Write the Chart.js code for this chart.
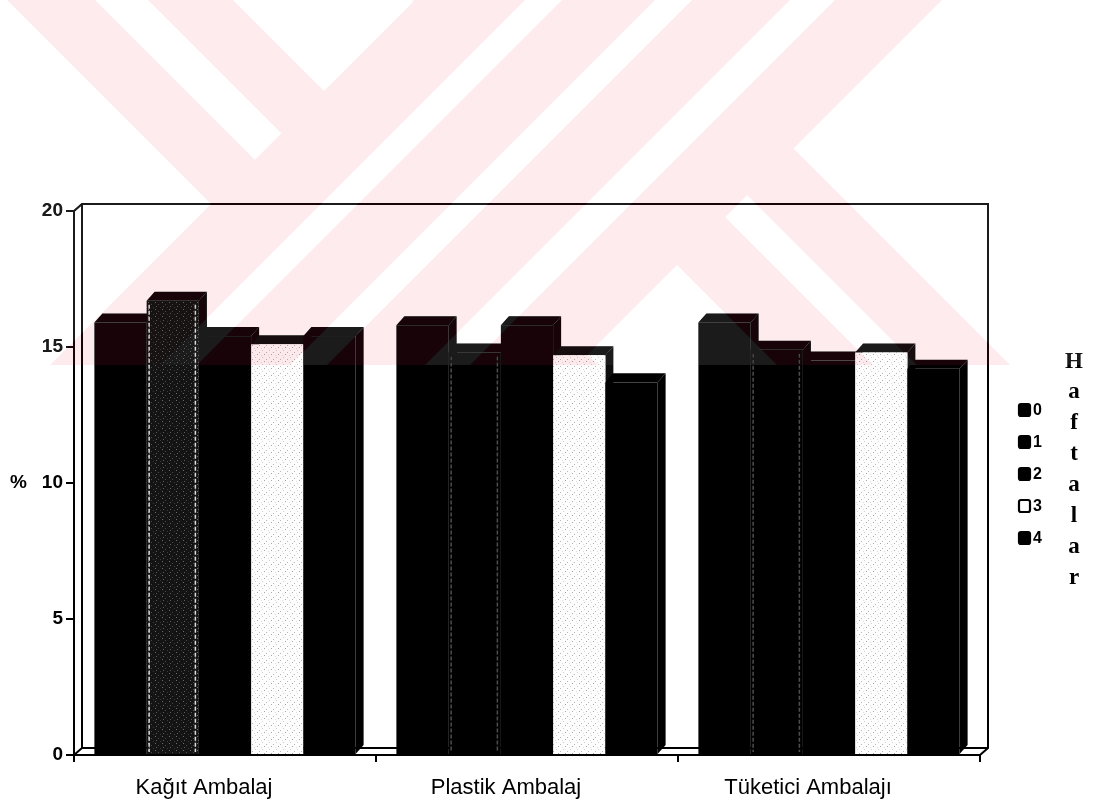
<!DOCTYPE html>
<html>
<head>
<meta charset="utf-8">
<script src="https://cdn.jsdelivr.net/npm/chart.js@4.4.1/dist/chart.umd.min.js"></script>
<style>
  html, body { margin: 0; padding: 0; background: #ffffff; }
  canvas { display: block; }
</style>
</head>
<body>
<canvas id="c" width="1095" height="806"></canvas>
<script>
// ---- data ----
const categories = ['Kağıt Ambalaj', 'Plastik Ambalaj', 'Tüketici Ambalajı'];
const weekLabels = ['0', '1', '2', '3', '4'];
const week0 = [15.9, 15.8, 15.9];
const week1 = [16.7, 14.8, 14.9];
const week2 = [15.4, 15.8, 14.5];
const week3 = [15.1, 14.7, 14.8];
const week4 = [15.4, 13.7, 14.2];
const yTicks = [0, 5, 10, 15, 20];
const legendTitle = 'Haftalar';
const axisTitle = '%';

// ---- styling ----
const canvas = document.getElementById('c');
const mainCtx = canvas.getContext('2d');
const SANS = "'Liberation Sans', Arial, sans-serif";
const SERIF = "'Liberation Serif', 'Times New Roman', serif";

// small repeating grain used on the textured columns
function grain(base, dots) {
  const t = document.createElement('canvas');
  t.width = 7; t.height = 7;
  const g = t.getContext('2d');
  g.fillStyle = base; g.fillRect(0, 0, 7, 7);
  dots.forEach(([x, y, c]) => { g.fillStyle = c; g.fillRect(x, y, 1, 1); });
  return mainCtx.createPattern(t, 'repeat');
}
const darkGrain = grain('#141414', [[1, 1, '#6a6a6a'], [4, 3, '#4a4a4a'], [2, 5, '#5c5c5c'], [6, 6, '#3a3a3a']]);
const lightGrain = grain('#fdfdfd', [[0, 2, '#b8b8b8'], [3, 0, '#cfcfcf'], [5, 4, '#a8a8a8'], [2, 5, '#dddddd']]);

const seriesData = [week0, week1, week2, week3, week4];
const frontFills = [
  ['#000', '#000', '#000'],
  [darkGrain, '#000', '#000'],
  ['#000', '#000', '#000'],
  [lightGrain, lightGrain, lightGrain],
  ['#000', '#000', '#000']
];
const capColors = ['#000', '#000', '#000', '#0e0e0e', '#000'];
const keyFills = ['#000', '#000', '#000', '#fff', '#000'];
const edgeLines = [null, ['#dcdcdc', '#4e4e4e', '#4e4e4e'], null, null, null];

const datasets = weekLabels.map((lab, i) => ({
  label: lab,
  data: seriesData[i],
  backgroundColor: frontFills[i],
  borderColor: capColors[i],
  keyFill: keyFills[i],
  edgeLine: edgeLines[i]
}));

// depth of the pseudo-3D columns and of the back wall
const DX = 8, DY = 9;
const WX = 8, WY = 7;

function poly(ctx, pts) {
  ctx.beginPath();
  ctx.moveTo(pts[0][0], pts[0][1]);
  for (let k = 1; k < pts.length; k++) ctx.lineTo(pts[k][0], pts[k][1]);
  ctx.closePath();
  ctx.fill();
}

const columns3d = {
  id: 'columns3d',
  beforeDatasetsDraw(chart) {
    const { ctx, chartArea: a } = chart;
    ctx.save();
    ctx.strokeStyle = '#000';
    ctx.lineWidth = 2;
    ctx.beginPath();
    // back wall outline
    ctx.moveTo(a.left, a.top); ctx.lineTo(a.left + WX, a.top - WY);
    ctx.lineTo(a.right + WX, a.top - WY); ctx.lineTo(a.right + WX, a.bottom - WY);
    ctx.lineTo(a.right, a.bottom);
    ctx.moveTo(a.left + WX, a.top - WY); ctx.lineTo(a.left + WX, a.bottom - WY);
    ctx.lineTo(a.right + WX, a.bottom - WY);
    ctx.moveTo(a.left, a.bottom); ctx.lineTo(a.left + WX, a.bottom - WY);
    ctx.stroke();
    ctx.restore();
  },
  beforeDatasetDraw() { return false; },
  afterDatasetsDraw(chart) {
    const ctx = chart.ctx;
    const dsList = chart.data.datasets;
    ctx.save();
    for (let i = 0; i < chart.data.labels.length; i++) {
      dsList.forEach((ds, di) => {
        const bar = chart.getDatasetMeta(di).data[i];
        const { x, y, base, width } = bar.getProps(['x', 'y', 'base', 'width'], true);
        const l = x - width / 2, r = x + width / 2;
        ctx.fillStyle = ds.borderColor;
        // right side face
        poly(ctx, [[r, y], [r + DX, y - DY], [r + DX, base - DY], [r, base]]);
        // top face
        poly(ctx, [[l, y], [r, y], [r + DX, y - DY], [l + DX, y - DY]]);
        // front face
        ctx.fillStyle = ds.backgroundColor[i];
        ctx.fillRect(l, y, width, base - y);
        if (ds.edgeLine) {
          ctx.strokeStyle = ds.edgeLine[i];
          ctx.lineWidth = 1.5;
          ctx.setLineDash([4, 2]);
          ctx.beginPath();
          ctx.moveTo(l + 2.5, y + 4); ctx.lineTo(l + 2.5, base - 2);
          ctx.moveTo(r - 3.5, y + 4); ctx.lineTo(r - 3.5, base - 2);
          ctx.stroke();
          ctx.setLineDash([]);
        }
      });
    }
    ctx.restore();
  }
};

// ---- page mark: pale diagonal bands across the upper part ----
const MARK_H = 365;
function paintMark(g, w, plain, tint) {
  const H = MARK_H;
  g.globalCompositeOperation = 'source-over';
  g.fillStyle = plain; g.fillRect(0, 0, w, H);
  const back = (a, b) => poly(g, [[a, 0], [b, 0], [b + H, H], [a + H, H]]);   // x - y in [a,b]
  const fwd = (a, b) => poly(g, [[a, 0], [b, 0], [b - H, H], [a - H, H]]);    // x + y in [a,b]
  g.fillStyle = tint;
  back(7, 233);
  back(412, 645);
  g.fillStyle = plain;
  // inner stripes of the falling bands, cut where the rising band begins
  poly(g, [[95, 0], [148, 0], [281.5, 133.5], [255, 160]]);
  poly(g, [[725, 217], [747, 195], [552 + H, H], [508 + H, H]]);
  g.fillStyle = tint;
  fwd(415, 942);
  g.fillStyle = plain;
  fwd(525, 562);
  fwd(655, 692);
  fwd(790, 835);
}

const finishing = {
  id: 'finishing',
  beforeDraw(chart) {
    const ctx = chart.ctx;
    ctx.save();
    ctx.fillStyle = '#ffffff';
    ctx.fillRect(0, 0, chart.width, chart.height);
    ctx.restore();
  },
  afterDraw(chart) {
    const ctx = chart.ctx;
    const ys = chart.scales.y;
    ctx.save();
    // value axis title
    ctx.fillStyle = '#000';
    ctx.font = 'bold 19px ' + SANS;
    ctx.textAlign = 'left';
    ctx.textBaseline = 'middle';
    ctx.fillText(axisTitle, 10, ys.getPixelForValue(yTicks[2]));

    // legend keys
    const lx = 1019, ly0 = 410, step = 32;
    ctx.font = 'bold 16px ' + SANS;
    chart.data.datasets.forEach((ds, i) => {
      const cy = ly0 + i * step;
      ctx.beginPath();
      ctx.roundRect(lx, cy - 6, 11, 12, 2);
      ctx.fillStyle = ds.keyFill;
      ctx.fill();
      ctx.lineWidth = 2.2;
      ctx.strokeStyle = '#000';
      ctx.stroke();
      ctx.fillStyle = '#000';
      ctx.fillText(ds.label, lx + 14, cy + 1);
    });

    // legend title, one letter per line
    ctx.font = 'bold 23px ' + SERIF;
    ctx.textAlign = 'center';
    ctx.textBaseline = 'alphabetic';
    [...legendTitle].forEach((ch, k) => {
      const base = k === 0 ? 368 : 367 + 31 * k;
      ctx.fillText(ch, 1074, base);
    });
    ctx.restore();

    // tinted diagonal bands over the top part of the page
    const w = chart.width;
    const off = document.createElement('canvas');
    off.width = w; off.height = MARK_H;
    const g = off.getContext('2d');
    ctx.save();
    paintMark(g, w, '#1b1b1b', '#170308');
    ctx.globalCompositeOperation = 'lighten';
    ctx.drawImage(off, 0, 0);
    paintMark(g, w, '#ffffff', '#fdebee');
    ctx.globalCompositeOperation = 'multiply';
    ctx.drawImage(off, 0, 0);
    ctx.restore();
  }
};

new Chart(canvas, {
  type: 'bar',
  data: { labels: categories, datasets },
  options: {
    responsive: false,
    animation: false,
    devicePixelRatio: 1,
    layout: { padding: { top: 211, right: 115, bottom: 0, left: 0 } },
    datasets: { bar: { categoryPercentage: 0.865, barPercentage: 1.0 } },
    plugins: { legend: { display: false }, tooltip: { enabled: false } },
    scales: {
      x: {
        offset: true,
        grid: { offset: true, drawOnChartArea: false, drawTicks: true, tickLength: 7, color: '#000', lineWidth: 2 },
        border: { display: true, color: '#000', width: 2 },
        ticks: { color: '#000', padding: 13, labelOffset: -21, font: { family: SANS, size: 22 } },
        afterFit(s) { s.height = 51; }
      },
      y: {
        min: yTicks[0],
        max: yTicks[yTicks.length - 1],
        grid: { drawOnChartArea: false, drawTicks: true, tickLength: 8, color: '#000', lineWidth: 2 },
        border: { display: true, color: '#000', width: 2 },
        ticks: { stepSize: yTicks[1] - yTicks[0], color: '#000', padding: 3, font: { family: SANS, size: 19, weight: 'bold' } },
        afterFit(s) { s.width = 74; }
      }
    }
  },
  plugins: [finishing, columns3d]
});
</script>
</body>
</html>
